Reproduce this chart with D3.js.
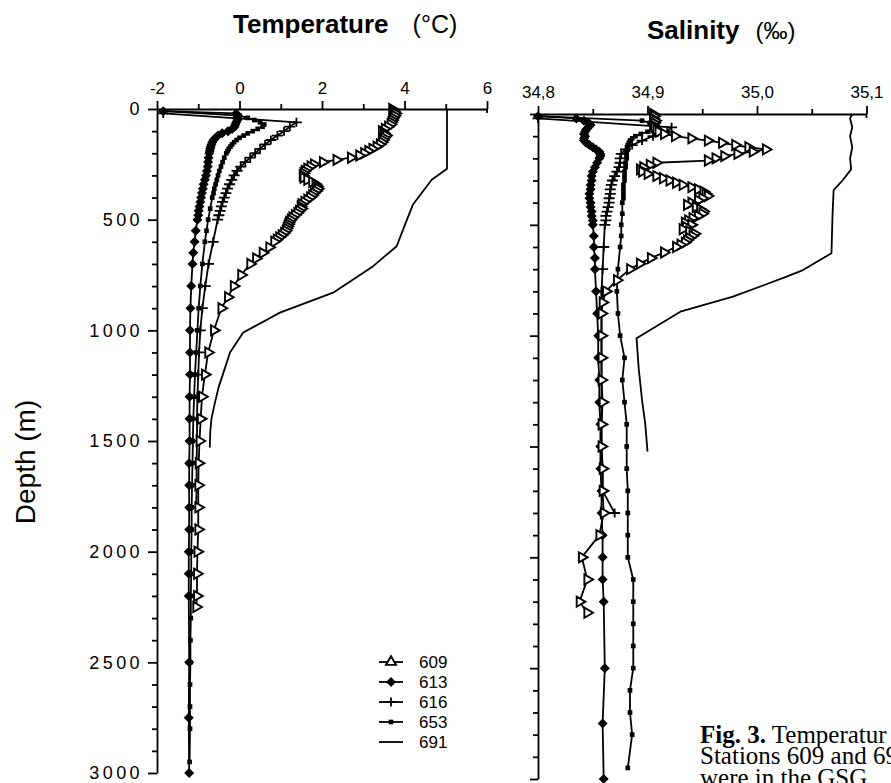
<!DOCTYPE html>
<html>
<head>
<meta charset="utf-8">
<title>Fig. 3 Temperature and salinity profiles</title>
<script src="https://cdn.jsdelivr.net/npm/d3@7/dist/d3.min.js"></script>
<style>
html,body{margin:0;padding:0;background:#fff;}
svg{display:block;}
</style>
</head>
<body>
<svg id="chart" width="891" height="783" viewBox="0 0 891 783"></svg>
<script>
// ------------------------------------------------------------------
// DATA
// ------------------------------------------------------------------
const stations = ["609", "613", "616", "653", "691"];
const tempTicks = [-2, 0, 2, 4, 6];
const tempMinorTicks = [-1, 1, 3, 5];
const salTicks = [34.8, 34.9, 35.0, 35.1];
const salMinorTicks = [34.85, 34.95, 35.05];
const depthTicks = [0, 500, 1000, 1500, 2000, 2500, 3000];

// Station 609 (open triangles)
const depth609 = [0,10,20,30,40,50,60,70,80,90,100,110,120,130,140,150,160,170,180,190,200,
  210,220,230,240,250,260,270,280,290,300,310,320,330,340,350,360,370,380,390,400,
  410,420,430,440,450,460,470,480,490,500,510,520,530,540,550,560,570,580,590,600,
  625,650,675,700,750,800,850,900,1000,1100,1200,1300,1400,1500,1600,1700,1800,1900,2000,2100,2200,2250];
const temp609 = [3.70,3.74,3.78,3.76,3.72,3.70,3.68,3.66,3.60,3.52,3.45,3.50,3.55,3.50,3.48,3.45,3.40,3.32,3.22,3.12,3.02,
  2.90,2.70,2.35,2.02,1.80,1.72,1.64,1.58,1.55,1.53,1.55,1.64,1.76,1.84,1.88,1.90,1.86,1.80,1.76,1.71,
  1.64,1.57,1.50,1.48,1.50,1.44,1.40,1.34,1.28,1.24,1.20,1.18,1.16,1.14,1.12,1.08,1.02,0.96,0.90,0.84,
  0.72,0.56,0.40,0.26,0.04,-0.14,-0.28,-0.44,-0.62,-0.76,-0.84,-0.91,-0.94,-0.97,-0.99,-1.00,-1.00,-1.00,-1.02,-1.03,-1.03,-1.05];
const sal609 = [34.905,34.906,34.905,34.907,34.906,34.905,34.906,34.908,34.910,34.915,34.925,34.940,34.955,34.968,34.980,34.992,35.008,34.996,34.982,34.970,34.962,
  34.955,34.908,34.902,34.896,34.893,34.895,34.900,34.908,34.914,34.920,34.926,34.932,34.940,34.946,34.951,34.953,34.955,34.950,34.946,34.940,
  34.936,34.944,34.948,34.951,34.950,34.946,34.941,34.937,34.934,34.940,34.935,34.932,34.938,34.943,34.941,34.938,34.936,34.934,34.930,34.926,
  34.915,34.903,34.893,34.884,34.872,34.862,34.859,34.858,34.858,34.858,34.858,34.859,34.858,34.858,34.859,34.859,34.860,34.856,34.840,34.845,34.838,34.845];

// Station 613 (filled diamonds)
const depth613 = [10,20,30,40,50,60,70,80,90,100,110,120,130,140,150,160,170,180,190,200,
  220,240,260,280,300,320,340,360,380,400,420,440,460,480,500,
  550,600,650,700,800,900,1000,1100,1200,1300,1400,1500,1600,1700,1800,1900,2000,2100,2200,
  2500,2750,3000];
const temp613 = [-1.85,-0.08,-0.04,-0.06,-0.05,-0.08,-0.10,-0.12,-0.18,-0.28,-0.42,-0.52,-0.58,-0.63,-0.66,-0.68,-0.70,-0.71,-0.72,-0.73,
  -0.75,-0.76,-0.77,-0.79,-0.81,-0.84,-0.87,-0.89,-0.91,-0.93,-0.95,-0.97,-0.99,-1.00,-1.02,
  -1.06,-1.09,-1.12,-1.14,-1.17,-1.19,-1.20,-1.20,-1.20,-1.21,-1.21,-1.21,-1.22,-1.22,-1.22,-1.22,-1.23,-1.23,-1.23,
  -1.22,-1.23,-1.22];
const sal613 = [34.800,34.835,34.842,34.846,34.848,34.846,34.844,34.843,34.842,34.843,34.842,34.842,34.844,34.847,34.850,34.853,34.856,34.857,34.857,34.856,
  34.854,34.852,34.850,34.849,34.849,34.848,34.848,34.847,34.847,34.848,34.848,34.849,34.849,34.850,34.850,
  34.851,34.851,34.852,34.852,34.853,34.854,34.855,34.855,34.856,34.856,34.857,34.857,34.857,34.858,34.858,34.859,34.859,34.859,34.860,
  34.861,34.859,34.860];

// Station 616 (plus signs)
const depth616 = [20,60,80,100,120,140,160,180,200,220,240,260,280,300,320,340,360,380,400,420,440,460,480,500,
  600,700,800,900,1000,1100,1200,1300,1400,1500,1600,1700,1800];
const temp616 = [-1.85,1.38,1.22,1.08,0.92,0.76,0.62,0.50,0.38,0.26,0.14,0.03,-0.06,-0.13,-0.19,-0.24,-0.29,-0.33,-0.37,-0.41,-0.44,-0.47,-0.50,-0.53,
  -0.64,-0.75,-0.83,-0.90,-0.95,-0.98,-1.00,-1.02,-1.03,-1.03,-1.04,-1.04,-1.05];
const sal616 = [34.800,34.922,34.918,34.905,34.895,34.886,34.880,34.876,34.875,34.875,34.874,34.872,34.870,34.868,34.867,34.866,34.866,34.865,34.865,34.864,34.863,34.862,34.862,34.861,
  34.860,34.859,34.858,34.858,34.858,34.858,34.858,34.858,34.858,34.858,34.859,34.859,34.870];

// Station 653 (small filled squares)
const depth653 = [10,30,40,50,60,70,80,90,100,110,120,130,140,150,160,170,180,190,200,
  220,240,260,280,300,320,340,360,380,400,450,500,550,600,
  700,800,900,1000,1100,1200,1300,1400,1500,1600,1700,1800,1900,2000,2100,2200,2300,2400,2500,2600,2700,2800,2950];
const temp653 = [-1.85,0.00,0.20,0.36,0.50,0.60,0.56,0.44,0.32,0.20,0.10,0.00,-0.07,-0.13,-0.18,-0.22,-0.26,-0.29,-0.32,
  -0.37,-0.41,-0.45,-0.49,-0.52,-0.55,-0.58,-0.61,-0.63,-0.66,-0.71,-0.76,-0.80,-0.84,
  -0.90,-0.95,-0.99,-1.02,-1.05,-1.08,-1.10,-1.12,-1.13,-1.14,-1.15,-1.16,-1.16,-1.17,-1.17,-1.18,-1.18,-1.19,-1.19,-1.20,-1.20,-1.20,-1.21];
const sal653 = [34.800,34.895,34.902,34.905,34.906,34.905,34.900,34.894,34.889,34.886,34.884,34.883,34.882,34.882,34.882,34.881,34.881,34.881,34.881,
  34.880,34.880,34.879,34.879,34.879,34.878,34.878,34.878,34.878,34.877,34.877,34.876,34.876,34.875,
  34.873,34.872,34.873,34.875,34.879,34.877,34.879,34.881,34.881,34.881,34.882,34.882,34.882,34.882,34.887,34.887,34.887,34.887,34.887,34.884,34.884,34.886,34.882];

// Station 691 (plain line)
const depth691T = [0,270,320,430,500,620,710,830,920,1010,1100,1260,1330,1400,1460,1530];
const temp691 = [5.03,5.03,4.66,4.21,4.06,3.81,3.24,2.27,0.98,0.09,-0.23,-0.51,-0.60,-0.68,-0.71,-0.72];
const depth691S = [0,20,60,100,150,200,250,300,343,450,628,704,734,824,892,1012,1150,1290,1400,1523];
const sal691 = [35.087,35.085,35.087,35.085,35.087,35.085,35.086,35.078,35.070,35.069,35.068,35.042,35.027,34.978,34.930,34.890,34.892,34.895,34.898,34.900];

// ------------------------------------------------------------------
// DRAWING
// ------------------------------------------------------------------
const SANS = "'Liberation Sans', Arial, Helvetica, sans-serif";
const SERIF = "'Liberation Serif', 'Times New Roman', serif";
const svg = d3.select("#chart");
svg.append("rect").attr("width", 891).attr("height", 783).attr("fill", "#fff");

const xT = d3.scaleLinear().domain([-2, 6]).range([157, 487]);
const yT = d3.scaleLinear().domain([0, 3000]).range([109, 773]);
const xS = d3.scaleLinear().domain([34.8, 35.1]).range([538, 866.5]);
const yS = d3.scaleLinear().domain([0, 3000]).range([114, 779]);

const AXW = 1.8;
function finish(g) {
  g.selectAll("path.domain").attr("stroke", "#000").attr("stroke-width", AXW);
  g.selectAll(".tick line").attr("stroke", "#000").attr("stroke-width", AXW);
  g.selectAll(".tick text").attr("fill", "#000").attr("font-family", SANS);
}
const depthMinor = d3.range(100, 3000, 100).filter(d => d % 500 !== 0);

// --- Temperature panel axes
const gTx = svg.append("g").attr("transform", `translate(0,${yT(0)})`)
  .call(d3.axisTop(xT).tickValues(tempTicks).tickSize(8).tickSizeOuter(0).tickPadding(7).tickFormat(d => String(d)));
gTx.selectAll("text").attr("font-size", 17);
finish(gTx);
const gTxm = svg.append("g").attr("transform", `translate(0,${yT(0)})`)
  .call(d3.axisTop(xT).tickValues(tempMinorTicks).tickSize(5).tickFormat(""));
gTxm.select(".domain").remove(); finish(gTxm);
svg.append("line").attr("x1", xT(6)).attr("x2", xT(6)).attr("y1", yT(0)).attr("y2", yT(0) + 4)
  .attr("stroke", "#000").attr("stroke-width", AXW);

const gTy = svg.append("g").attr("transform", `translate(${xT(-2)},0)`)
  .call(d3.axisLeft(yT).tickValues(depthTicks).tickSize(9).tickSizeOuter(0).tickPadding(5).tickFormat(d3.format("d")));
gTy.selectAll("text").attr("font-size", 18).attr("letter-spacing", "3.4px");
finish(gTy);
const gTym = svg.append("g").attr("transform", `translate(${xT(-2)},0)`)
  .call(d3.axisLeft(yT).tickValues(depthMinor).tickSize(5).tickFormat(""));
gTym.select(".domain").remove(); finish(gTym);

// --- Salinity panel axes
const gSx = svg.append("g").attr("transform", `translate(0,${yS(0)})`)
  .call(d3.axisTop(xS).tickValues(salTicks).tickSize(8).tickSizeOuter(0).tickPadding(8)
    .tickFormat(d => d3.format(".1f")(d).replace(".", ",")));
gSx.selectAll("text").attr("font-size", 17);
finish(gSx);
const gSxm = svg.append("g").attr("transform", `translate(0,${yS(0)})`)
  .call(d3.axisTop(xS).tickValues(salMinorTicks).tickSize(5).tickFormat(""));
gSxm.select(".domain").remove(); finish(gSxm);
svg.append("line").attr("x1", xS(35.1)).attr("x2", xS(35.1)).attr("y1", yS(0)).attr("y2", yS(0) + 4)
  .attr("stroke", "#000").attr("stroke-width", AXW);

const gSy = svg.append("g").attr("transform", `translate(${xS(34.8)},0)`)
  .call(d3.axisLeft(yS).tickValues(depthTicks).tickSize(8).tickSizeOuter(0).tickFormat(""));
finish(gSy);
const gSym = svg.append("g").attr("transform", `translate(${xS(34.8)},0)`)
  .call(d3.axisLeft(yS).tickValues(depthMinor).tickSize(5).tickFormat(""));
gSym.select(".domain").remove(); finish(gSym);

// --- markers
const symTri = d3.symbol(d3.symbolTriangle, 44)();
const symDia = d3.symbol(d3.symbolSquare, 50)();
const symSq = d3.symbol(d3.symbolSquare, 22)();
const symPlus = "M-5.5,0H5.5M0,-4.5V4.5";

function styleMarker(sel, type) {
  if (type === "tri") {
    sel.attr("d", symTri).attr("fill", "#fff").attr("stroke", "#000").attr("stroke-width", 1.9);
  } else if (type === "dia") {
    sel.attr("d", symDia).attr("fill", "#000").attr("stroke", "none");
  } else if (type === "sq") {
    sel.attr("d", symSq).attr("fill", "#000").attr("stroke", "none");
  } else if (type === "plus") {
    sel.attr("d", symPlus).attr("fill", "none").attr("stroke", "#000").attr("stroke-width", 1.8);
  }
}
const rotation = {tri: 90, dia: 45, sq: 0, plus: 0};

function drawProfile(depths, vals, x, y, type) {
  const pts = depths.map((d, i) => [d, vals[i]]);
  const g = svg.append("g");
  g.append("path")
    .attr("d", d3.line().x(p => x(p[1])).y(p => y(p[0]))(pts))
    .attr("fill", "none").attr("stroke", "#000").attr("stroke-width", 1.8)
    .attr("stroke-linejoin", "round");
  if (type) {
    g.selectAll("path.m").data(pts).join("path").attr("class", "m")
      .call(s => styleMarker(s, type))
      .attr("transform", p => `translate(${x(p[1])},${y(p[0])}) rotate(${rotation[type]})`);
  }
}

// Temperature profiles
drawProfile(depth691T, temp691, xT, yT, null);
drawProfile(depth653, temp653, xT, yT, "sq");
drawProfile(depth616, temp616, xT, yT, "plus");
drawProfile(depth613, temp613, xT, yT, "dia");
drawProfile(depth609, temp609, xT, yT, "tri");
// Salinity profiles
drawProfile(depth691S, sal691, xS, yS, null);
drawProfile(depth653, sal653, xS, yS, "sq");
drawProfile(depth616, sal616, xS, yS, "plus");
drawProfile(depth613, sal613, xS, yS, "dia");
drawProfile(depth609, sal609, xS, yS, "tri");

// --- titles
const tt = svg.append("text").attr("x", 233).attr("y", 33).attr("font-family", SANS).attr("fill", "#000");
tt.append("tspan").attr("font-size", 26).attr("font-weight", "bold").text("Temperature");
tt.append("tspan").attr("font-size", 25).attr("dx", 24).text("(°C)");
const st = svg.append("text").attr("x", 647).attr("y", 39).attr("font-family", SANS).attr("fill", "#000");
st.append("tspan").attr("font-size", 26).attr("font-weight", "bold").text("Salinity");
st.append("tspan").attr("font-size", 24).attr("dx", 16).text("(‰)");
svg.append("text").attr("transform", "translate(35,462) rotate(-90)").attr("text-anchor", "middle")
  .attr("font-family", SANS).attr("font-size", 28).attr("fill", "#000").text("Depth (m)");

// --- legend
const legY = d3.scalePoint().domain(stations).range([662, 742]);
const legendTypes = {"609": "tri", "613": "dia", "616": "plus", "653": "sq", "691": null};
const leg = svg.append("g");
stations.forEach(s => {
  const yy = legY(s);
  leg.append("line").attr("x1", 379).attr("x2", 403).attr("y1", yy).attr("y2", yy)
    .attr("stroke", "#000").attr("stroke-width", 1.8);
  const t = legendTypes[s];
  if (t) {
    leg.append("path").call(p => styleMarker(p, t))
      .attr("transform", `translate(391,${yy}) rotate(${t === "tri" ? 0 : rotation[t]})`);
  }
  leg.append("text").attr("x", 419).attr("y", yy).attr("dy", "0.36em").attr("font-family", SANS)
    .attr("font-size", 17).attr("fill", "#000").text(s);
});

// --- caption fragment (cut by the page edge, as in the source scan)
const cap = svg.append("text").attr("font-family", SERIF).attr("font-size", 25).attr("fill", "#000");
const l1 = cap.append("tspan").attr("x", 700).attr("y", 743);
l1.append("tspan").attr("font-weight", "bold").text("Fig. 3.");
l1.append("tspan").text(" Temperatur");
cap.append("tspan").attr("x", 700).attr("y", 764).text("Stations 609 and 69");
cap.append("tspan").attr("x", 700).attr("y", 786).text("were in the GSG");
</script>
</body>
</html>
